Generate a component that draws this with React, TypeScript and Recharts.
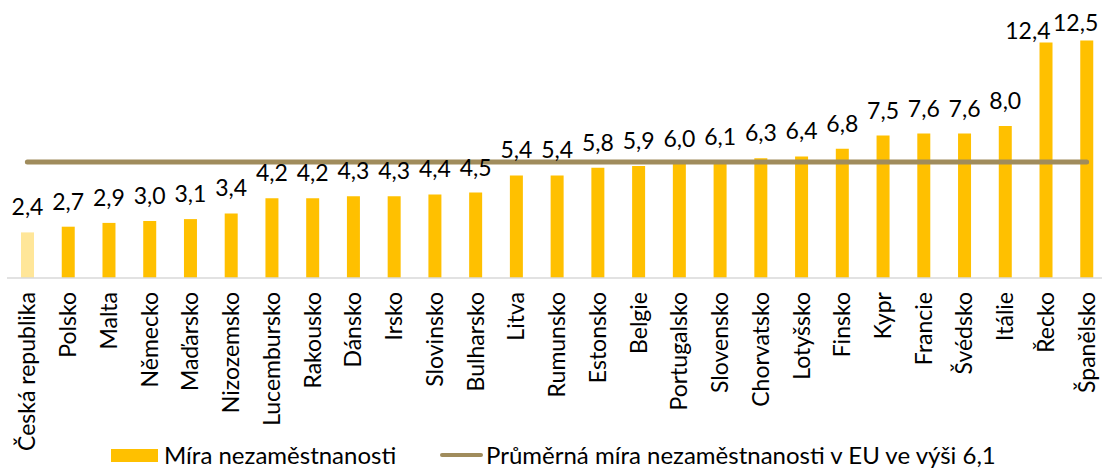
import { Bar, Cell, ComposedChart, LabelList, Legend, Line, XAxis, YAxis } from "recharts";

const countries = [
  "Česká republika", "Polsko", "Malta", "Německo", "Maďarsko", "Nizozemsko",
  "Lucembursko", "Rakousko", "Dánsko", "Irsko", "Slovinsko", "Bulharsko",
  "Litva", "Rumunsko", "Estonsko", "Belgie", "Portugalsko", "Slovensko",
  "Chorvatsko", "Lotyšsko", "Finsko", "Kypr", "Francie", "Švédsko",
  "Itálie", "Řecko", "Španělsko",
];
const rates = [
  2.4, 2.7, 2.9, 3.0, 3.1, 3.4, 4.2, 4.2, 4.3, 4.3, 4.4, 4.5, 5.4, 5.4,
  5.8, 5.9, 6.0, 6.1, 6.3, 6.4, 6.8, 7.5, 7.6, 7.6, 8.0, 12.4, 12.5,
];
const euAverage = 6.1;

const data = countries.map((name, i) => ({ name, rate: rates[i], avg: euAverage }));

const FONT = "Lato, 'Open Sans', sans-serif";
const BAR = "#FFC000";
const BAR_CZ = "#FFE699";
const AVG = "#A08C5C";
const Y_MAX = 14;
const CROWDED = 10; // values above this have no room for a label above the bar

const fmt = (v: number) => v.toFixed(1).replace(".", ",");

function ValueLabel(props: any) {
  const { x, y, width, value, index } = props;
  let tx = x + width / 2;
  let ty = y - 17;
  let anchor: "middle" | "end" = "middle";
  if (Number(value) > CROWDED) {
    anchor = "end";
    const nextCrowded = (rates[index + 1] ?? 0) > CROWDED;
    // tuck beside the bar; step aside for a neighbouring crowded label
    tx = nextCrowded ? x + width - 2 : x + width + 5;
    ty = nextCrowded ? y - 3 : y - 10;
  }
  return (
    <text x={tx} y={ty} textAnchor={anchor} fontSize={23} fontFamily={FONT} fill="#000">
      {fmt(Number(value))}
    </text>
  );
}

function CountryTick(props: any) {
  const { x, y, payload } = props;
  return (
    <text
      transform={`translate(${x},${y}) rotate(-90)`}
      textAnchor="end"
      dy="0.35em"
      fontSize={23}
      fontFamily={FONT}
      fill="#000"
    >
      {payload.value}
    </text>
  );
}

function ChartLegend() {
  return (
    <div
      style={{
        position: "relative",
        height: 22,
        width: 1102,
        fontFamily: FONT,
        fontSize: 24,
        color: "#000",
        lineHeight: "22px",
      }}
    >
      <div style={{ position: "absolute", left: 104, top: 0, display: "flex", alignItems: "center" }}>
        <span style={{ display: "inline-block", width: 47, height: 13, background: BAR, marginRight: 6 }} />
        <span>Míra nezaměstnanosti</span>
      </div>
      <div style={{ position: "absolute", left: 433, top: 0, display: "flex", alignItems: "center" }}>
        <span
          style={{ display: "inline-block", width: 43, height: 4, borderRadius: 2, background: AVG, marginRight: 3 }}
        />
        <span>Průměrná míra nezaměstnanosti v EU ve výši 6,1</span>
      </div>
    </div>
  );
}

export default function App() {
  return (
    <div
      style={{
        position: "absolute",
        left: 0,
        top: 0,
        width: 1102,
        height: 469,
        overflow: "hidden",
        background: "#fff",
      }}
    >
      <ComposedChart
        width={1110}
        height={469}
        data={data}
        margin={{ top: 12, right: 3, bottom: 3, left: 7 }}
      >
        <XAxis
          dataKey="name"
          interval={0}
          height={166}
          tickLine={false}
          tickSize={6}
          tickMargin={8}
          axisLine={{ stroke: "#D9D9D9", strokeWidth: 1.5 }}
          tick={<CountryTick />}
        />
        <YAxis hide domain={[0, Y_MAX]} />
        <Legend verticalAlign="bottom" align="left" content={<ChartLegend />} />
        <Bar dataKey="rate" barSize={13} isAnimationActive={false}>
          {data.map((d, i) => (
            <Cell key={d.name} fill={i === 0 ? BAR_CZ : BAR} />
          ))}
          <LabelList dataKey="rate" content={<ValueLabel />} />
        </Bar>
        <Line
          type="linear"
          dataKey="avg"
          stroke={AVG}
          strokeWidth={5}
          strokeLinecap="round"
          dot={false}
          activeDot={false}
          isAnimationActive={false}
        />
      </ComposedChart>
    </div>
  );
}
